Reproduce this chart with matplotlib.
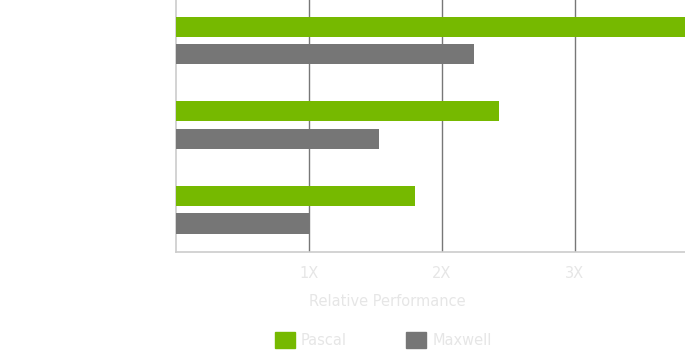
import numpy as np
import matplotlib.pyplot as plt
from matplotlib.patches import Patch

# Relative performance, three workloads (labels not shown on the original)
pascal = [3.85, 2.43, 1.80]
maxwell = [2.24, 1.53, 1.00]
ticks = [1, 2, 3]
tick_labels = ['1X', '2X', '3X']

green = '#76b900'
grey = '#767676'
light = '#e6e6e6'

fig = plt.figure(figsize=(6.85, 3.56), dpi=100)
ax = fig.add_axes([176/685, 1 - 252/356, 1 - 176/685, 252/356])

y = np.arange(len(pascal))
h = 0.237
off = 0.163
ax.barh(y - off, pascal, height=h, color=green, zorder=3)
ax.barh(y + off, maxwell, height=h, color=grey, zorder=3)

ax.set_xlim(0, 3.83)
ax.set_ylim(2.5, -0.48)
ax.set_yticks([])
ax.set_xticks(ticks)
ax.set_xticklabels(tick_labels, color=light, fontsize=10.5)
ax.tick_params(axis='x', length=0, pad=10)
ax.grid(axis='x', color='#777777', linewidth=1, zorder=0)

for s in ['top', 'right']:
    ax.spines[s].set_visible(False)
for s in ['left', 'bottom']:
    ax.spines[s].set_color('#cccccc')
    ax.spines[s].set_linewidth(1.2)

ax.set_xlabel('Relative Performance', color=light, fontsize=10.5)
ax.xaxis.set_label_coords(0.415, -0.165)

handles = [Patch(color=green, label='Pascal'), Patch(color=grey, label='Maxwell')]
leg = fig.legend(handles=handles, loc='lower center', bbox_to_anchor=(0.5594, -0.015),
                 ncol=2, frameon=False, fontsize=10.5, handlelength=1.37,
                 handleheight=1.37, handletextpad=0.4, columnspacing=4.09)
for t in leg.get_texts():
    t.set_color(light)

plt.savefig('out.png', dpi=100)
